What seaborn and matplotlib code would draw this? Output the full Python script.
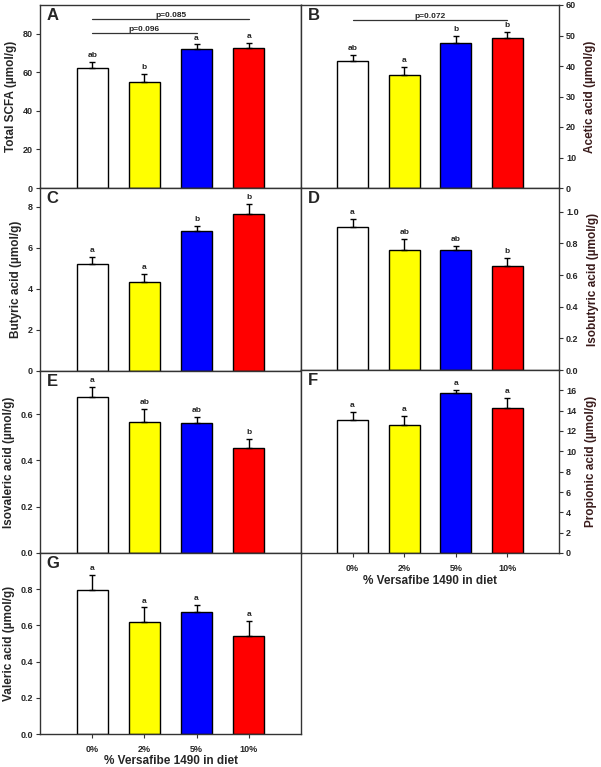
import matplotlib
matplotlib.use("Agg")
import matplotlib.pyplot as plt
import numpy as np
import pandas as pd
import seaborn as sns

doses = ["0%", "2%", "5%", "10%"]
colors = ["#ffffff", "#ffff00", "#0000ff", "#ff0000"]

total_scfa = [62.2, 55.1, 72.0, 72.9]
total_scfa_se = [3.2, 4.1, 2.6, 2.6]
acetic = [41.5, 37.2, 47.7, 49.2]
acetic_se = [2.2, 2.5, 2.3, 2.0]
butyric = [5.2, 4.34, 6.80, 7.63]
butyric_se = [0.35, 0.39, 0.24, 0.49]
isobutyric = [0.905, 0.758, 0.758, 0.659]
isobutyric_se = [0.051, 0.068, 0.025, 0.050]
isovaleric = [0.676, 0.567, 0.561, 0.455]
isovaleric_se = [0.043, 0.057, 0.026, 0.037]
propionic = [13.1, 12.6, 15.7, 14.3]
propionic_se = [0.8, 0.9, 0.35, 0.95]
valeric = [0.794, 0.621, 0.673, 0.544]
valeric_se = [0.083, 0.079, 0.042, 0.083]

letters_a = ["ab", "b", "a", "a"]
letters_b = ["ab", "a", "b", "b"]
letters_c = ["a", "a", "b", "b"]
letters_d = ["a", "ab", "ab", "b"]
letters_e = ["a", "ab", "ab", "b"]
letters_f = ["a", "a", "a", "a"]
letters_g = ["a", "a", "a", "a"]

sns.set_style("ticks")
plt.rcParams['font.family'] = ['Liberation Sans', 'DejaVu Sans']
plt.rcParams['font.weight'] = 'bold'

fig = plt.figure(figsize=(6.01, 7.67), dpi=100)

W = 601.0
H = 767.0
def box(x0, x1, y0, y1):
    return [x0 / W, 1 - y1 / H, (x1 - x0) / W, (y1 - y0) / H]

# name, values, se, letters, ylabel, ylim, ticks, fmt, rect, right, xlabels
panels = [
    ("A", total_scfa, total_scfa_se, letters_a, "Total SCFA (\u00b5mol/g)", 95, np.arange(0, 81, 20), "{:.0f}", box(40, 301, 5, 188), False, False),
    ("B", acetic, acetic_se, letters_b, "Acetic acid (\u00b5mol/g)", 60, np.arange(0, 61, 10), "{:.0f}", box(301, 559, 5, 188), True, False),
    ("C", butyric, butyric_se, letters_c, "Butyric acid (\u00b5mol/g)", 8.9, np.arange(0, 9, 2), "{:.0f}", box(40, 301, 188, 371), False, False),
    ("D", isobutyric, isobutyric_se, letters_d, "Isobutyric acid (\u00b5mol/g)", 1.15, np.arange(0, 1.01, 0.2), "{:.1f}", box(301, 559, 188, 370), True, False),
    ("E", isovaleric, isovaleric_se, letters_e, "Isovaleric acid (\u00b5mol/g)", 0.787, np.arange(0, 0.61, 0.2), "{:.1f}", box(40, 301, 371, 553), False, False),
    ("F", propionic, propionic_se, letters_f, "Propionic acid (\u00b5mol/g)", 18, np.arange(0, 17, 2), "{:.0f}", box(301, 559, 370, 553), True, True),
    ("G", valeric, valeric_se, letters_g, "Valeric acid (\u00b5mol/g)", 1.0, np.arange(0, 0.81, 0.2), "{:.1f}", box(40, 301, 553, 734), False, True),
]

axes = {}
for name, vals, se, lets, ylab, ytop, ticks, fmt, rect, right, xlab in panels:
    ax = fig.add_axes(rect)
    axes[name] = ax
    df = pd.DataFrame({"dose": doses, "value": vals})
    sns.barplot(data=df, x="dose", y="value", hue="dose", palette=colors,
                order=doses, hue_order=doses, width=0.6, edgecolor="black",
                linewidth=1.0, legend=False, errorbar=None, saturation=1, ax=ax)
    pos = np.arange(len(doses))
    ax.errorbar(pos, vals, yerr=[np.zeros(len(se)), se], fmt="none",
                ecolor="black", elinewidth=1.0, capsize=2.5, capthick=1.0)
    for p, v, s, l in zip(pos, vals, se, lets):
        ax.annotate(l, (p, v + s), xytext=(0, 2), textcoords="offset points",
                    ha="center", va="bottom", fontsize=6, fontweight="bold")
    ax.set_xlim(-1, 4)
    ax.set_ylim(0, ytop)
    ax.set_yticks(ticks)
    ax.set_yticklabels([fmt.format(t) for t in ticks])
    for sp in ax.spines.values():
        sp.set_visible(True)
        sp.set_color("#333333")
        sp.set_linewidth(1.0)
    ax.tick_params(axis="both", direction="out", length=3, width=0.8,
                   labelsize=6.5, pad=2, color="#333333")
    ax.set_xlabel("")
    if xlab:
        ax.set_xticklabels(doses, fontsize=6.5, fontweight="bold")
        ax.set_xlabel("% Versafibe 1490 in diet", fontsize=8.5, fontweight="bold", labelpad=1)
        ax.tick_params(axis="x", pad=5)
    else:
        ax.set_xticklabels([])
    if right:
        ax.yaxis.tick_right()
        ax.yaxis.set_label_position("right")
        ax.set_ylabel(ylab, fontsize=8.5, fontweight="bold", color="#3a1c1c", labelpad=6)
    else:
        ax.set_ylabel(ylab, fontsize=8.5, fontweight="bold", labelpad=4)
    for lab in ax.get_yticklabels():
        lab.set_fontweight("bold")
    ax.text(0.025, 0.985, name, transform=ax.transAxes, ha="left", va="top",
            fontsize=12, fontweight="bold")

# significance bars
def sig(ax, x0, x1, y, txt):
    ax.plot([x0, x1], [y, y], color="#333333", linewidth=0.9)
    ax.text((x0 + x1) / 2, y, txt, ha="center", va="bottom", fontsize=6, fontweight="bold")

sig(axes["A"], 0, 3, 87.6, "p=0.085")
sig(axes["A"], 0, 2, 80.7, "p=0.096")
sig(axes["B"], 0, 3, 55.1, "p=0.072")

fig.savefig("out.png", dpi=100)
